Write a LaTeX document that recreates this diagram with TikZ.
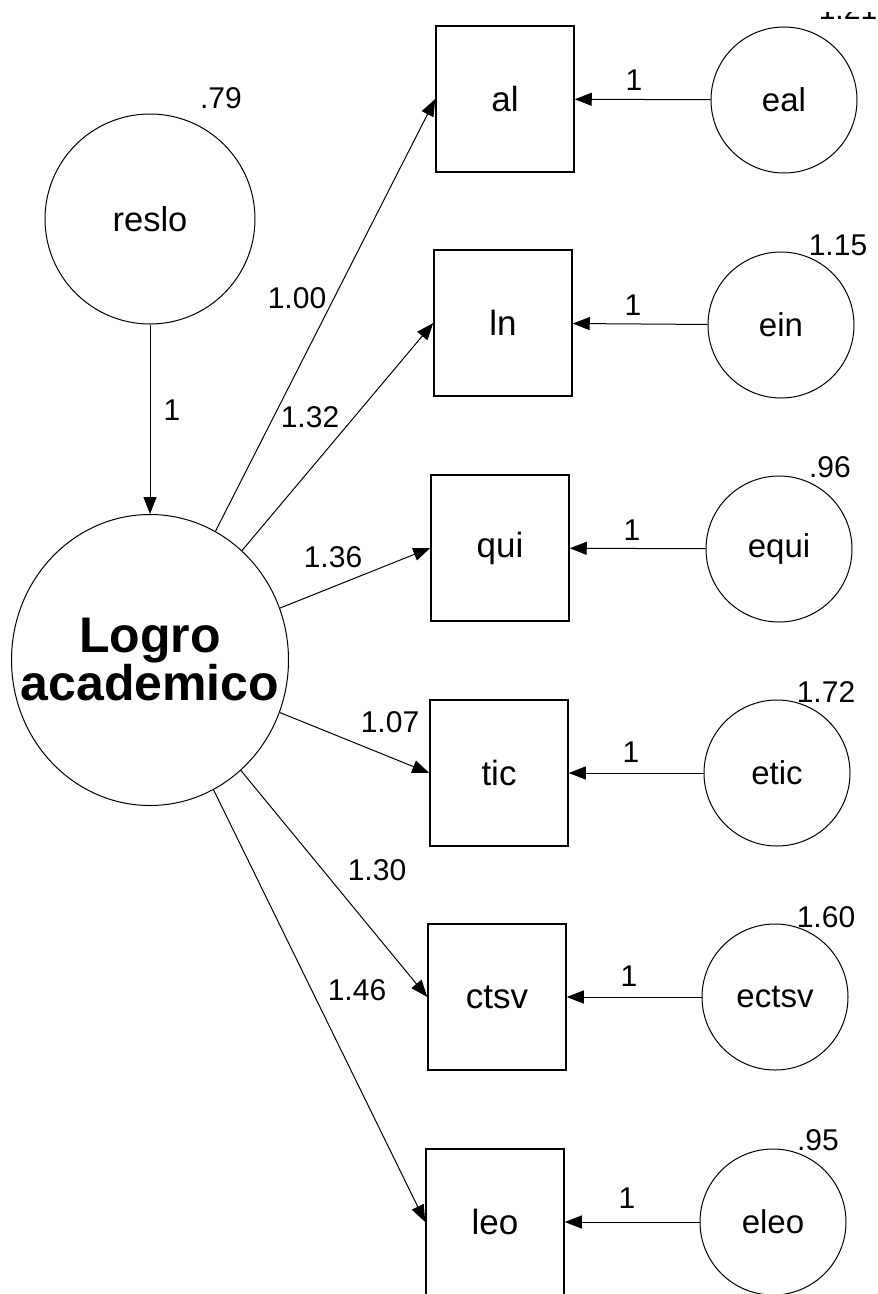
\documentclass[tikz,border=0pt]{standalone}
\usepackage{fontspec}
\setmainfont{Liberation Sans}
\usetikzlibrary{arrows.meta,shapes.geometric}
\begin{document}
\begin{tikzpicture}[x=1pt,y=-1pt,
  line width=1pt,
  obs/.style={draw,line width=1.5pt,minimum width=138pt,minimum height=146pt,inner sep=0pt,font=\fontsize{35}{42}\selectfont},
  err/.style={draw,circle,minimum size=146pt,inner sep=0pt,font=\fontsize{33}{40}\selectfont},
  lbl/.style={inner sep=0pt,font=\fontsize{30}{36}\selectfont},
  arr/.style={-{Triangle[length=17pt,width=13pt]}}]
\useasboundingbox (0,0) rectangle (878,1294);
% latent variables
\node[draw,circle,minimum size=210pt,inner sep=0pt,font=\fontsize{34.5}{40}\selectfont] (reslo) at (150,219) {reslo};
\node[draw,ellipse,minimum width=277pt,minimum height=291pt,inner sep=0pt] (logro) at (150,660) {};
\node[inner sep=0pt,align=center,font=\bfseries\fontsize{50}{48}\selectfont] (logrotext) at (logro.center) {Logro\\academico};
% observed
\node[obs] (al)   at (505,99)   {al};
\node[obs] (ln)   at (503,323)  {ln};
\node[obs] (qui)  at (500,548)  {qui};
\node[obs] (tic)  at (499,773)  {tic};
\node[obs] (ctsv) at (497,997)  {ctsv};
\node[obs] (leo)  at (495,1222) {leo};
% errors
\node[err] (eal)   at (784,100)  {eal};
\node[err] (ein)   at (781,325)  {ein};
\node[err] (equi)  at (779,549)  {equi};
\node[err] (etic)  at (777,773)  {etic};
\node[err] (ectsv) at (775,997)  {ectsv};
\node[err] (eleo)  at (773,1222) {eleo};
% arrows
\draw[arr] (reslo) -- (logro);
\foreach \b in {al,ln,qui,tic,ctsv,leo}{\draw[arr] (logro) -- (\b.west);}
\draw[arr] (eal) -- (al);
\draw[arr] (ein) -- (ln);
\draw[arr] (equi) -- (qui);
\draw[arr] (etic) -- (tic);
\draw[arr] (ectsv) -- (ctsv);
\draw[arr] (eleo) -- (leo);
% labels
\node[lbl] (l0) at (172,410) {1};
\node[lbl] (l1) at (297,298) {1.00};
\node[lbl] (l2) at (310,417) {1.32};
\node[lbl] (l3) at (333,557) {1.36};
\node[lbl] (l4) at (390,722) {1.07};
\node[lbl] (l5) at (377,870) {1.30};
\node[lbl] (l6) at (357,990) {1.46};
\node[lbl] (o1) at (634,80)   {1};
\node[lbl] (o2) at (633,305)  {1};
\node[lbl] (o3) at (632,530)  {1};
\node[lbl] (o4) at (631,752)  {1};
\node[lbl] (o5) at (629,976)  {1};
\node[lbl] (o6) at (627,1198) {1};
\node[lbl] (v0) at (221,98)   {.79};
\node[lbl] (v2) at (838,245)  {1.15};
\node[lbl] (v3) at (830,467)  {.96};
\node[lbl] (v4) at (826,692)  {1.72};
\node[lbl] (v5) at (826,917)  {1.60};
\node[lbl] (v6) at (818,1140) {.95};
\begin{scope}
\clip (780,12) rectangle (878,30);
\node[lbl] (v1) at (848,9) {1.21};
\end{scope}
\end{tikzpicture}
\end{document}
